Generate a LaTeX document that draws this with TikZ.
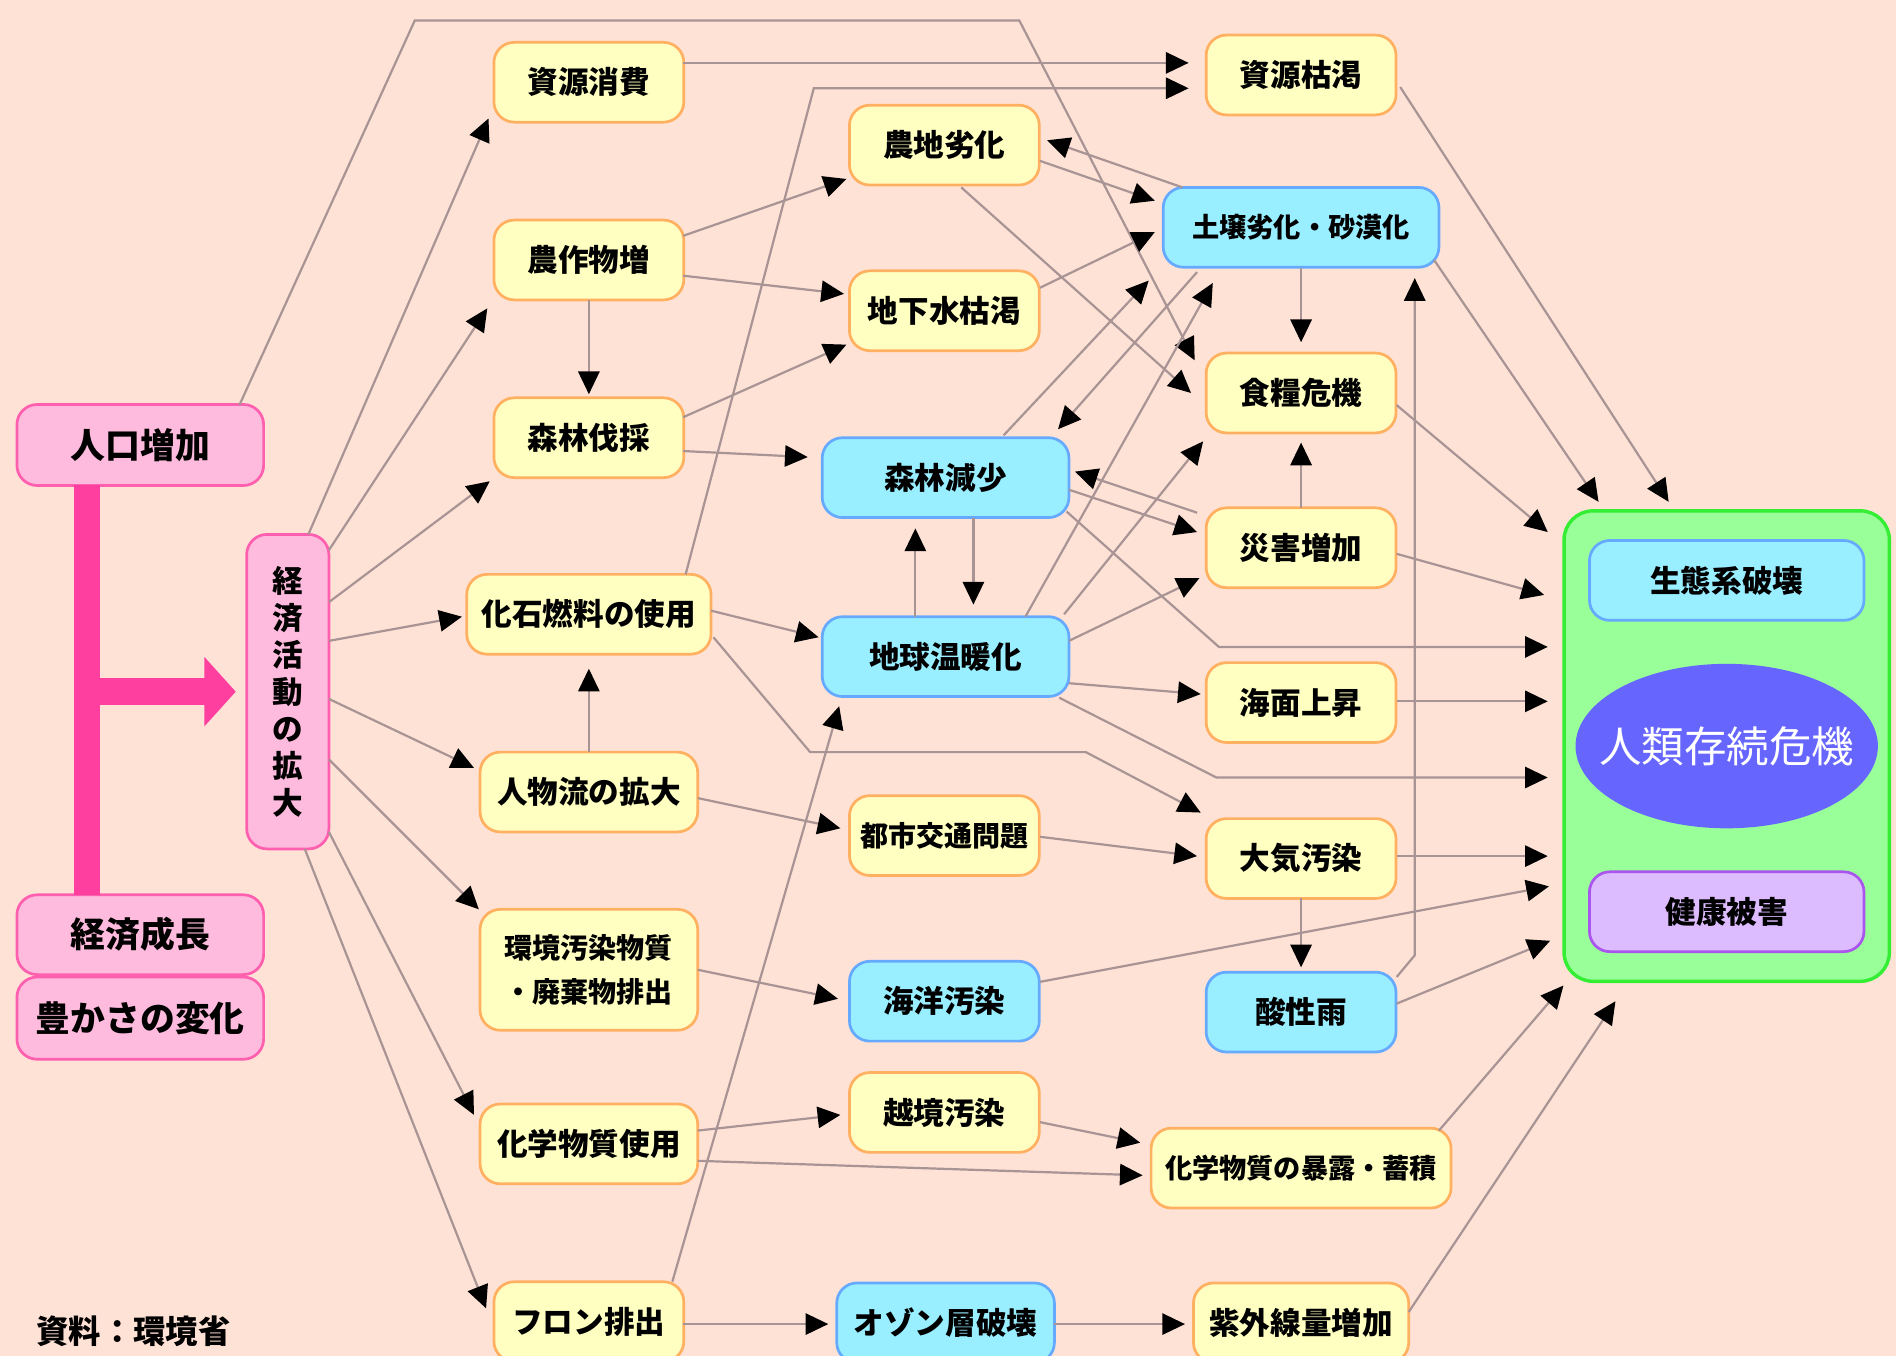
\documentclass[tikz,border=0pt]{standalone}
\usepackage{fontspec}
\setmainfont{Noto Sans CJK JP}
\usetikzlibrary{arrows.meta,calc,shapes.geometric}
\definecolor{bg}{HTML}{FFE2D6}
\definecolor{yfill}{HTML}{FFFFC2}
\definecolor{ydraw}{HTML}{FFB060}
\definecolor{bfill}{HTML}{99EEFF}
\definecolor{bdraw}{HTML}{66AAFF}
\definecolor{pfill}{HTML}{FFBBDD}
\definecolor{pdraw}{HTML}{FF5FAF}
\definecolor{pinkbar}{HTML}{FF3F9F}
\definecolor{gfill}{HTML}{99FF99}
\definecolor{gdraw}{HTML}{33EE33}
\definecolor{vfill}{HTML}{DDBBFF}
\definecolor{vdraw}{HTML}{AA55EE}
\definecolor{efill}{HTML}{6666FF}
\definecolor{lcol}{HTML}{A89494}
\begin{document}
\begin{tikzpicture}[x=0.025cm,y=-0.025cm,
  box/.style={rounded corners=0.42cm, line width=1.6pt, align=center, inner sep=0pt,
    minimum width=3.925cm, minimum height=1.65cm,
    font=\bfseries\fontsize{18}{21}\selectfont},
  ybox/.style={box, fill=yfill, draw=ydraw},
  bbox/.style={box, fill=bfill, draw=bdraw},
  pbox/.style={box, fill=pfill, draw=pdraw, minimum width=5.1cm, minimum height=1.675cm,
    font=\bfseries\fontsize{20.5}{24}\selectfont},
  vbox/.style={box, fill=vfill, draw=vdraw},
  conn/.style={draw=lcol, line width=1.3pt, -{Triangle[length=0.47cm,width=0.44cm,color=black]}},
  pinkline/.style={draw=pinkbar, line width=0.55cm},
]
\clip (0,0) rectangle (1568,1121);
\fill[bg] (0,0) rectangle (1568,1121);

% left column
\node[pbox] (pop) at (116,368) {人口増加};
\node[pbox, minimum height=1.65cm] (growth) at (116,773) {経済成長};
\node[pbox, minimum height=1.7cm] (rich) at (116,842) {豊かさの変化};
\node[pbox, minimum width=1.7cm, minimum height=6.5cm,
  font=\bfseries\fontsize{18}{21.8}\selectfont] (econ) at (238,572) {経\\済\\活\\動\\の\\拡\\大};

% column 2
\node[ybox] (res) at (487,68) {資源消費};
\node[ybox] (crop) at (487,215) {農作物増};
\node[ybox] (forest) at (487,362) {森林伐採};
\node[ybox, minimum width=5.05cm] (fossil) at (487,508) {化石燃料の使用};
\node[ybox, minimum width=4.5cm] (flow) at (487,655) {人物流の拡大};
\node[ybox, minimum width=4.5cm, minimum height=2.5cm,
  font=\bfseries\fontsize{16.5}{26}\selectfont] (pollut) at (487,802) {環境汚染物質\\・廃棄物排出};
\node[ybox, minimum width=4.5cm] (chem) at (487,946) {化学物質使用};
\node[ybox] (cfc) at (487,1093) {フロン排出};

% column 3
\node[ybox] (farm) at (781,120) {農地劣化};
\node[ybox] (ground) at (781,257) {地下水枯渇};
\node[bbox, minimum width=5.1cm] (deforest) at (782,395) {森林減少};
\node[bbox, minimum width=5.1cm] (warm) at (782,543) {地球温暖化};
\node[ybox, font=\bfseries\fontsize{16.5}{20}\selectfont] (traffic) at (781,691) {都市交通問題};
\node[bbox] (ocean) at (781,828) {海洋汚染};
\node[ybox] (cross) at (781,920) {越境汚染};
\node[bbox, minimum width=4.5cm] (ozone) at (782,1094) {オゾン層破壊};

% column 4
\node[ybox] (deplete) at (1076,62) {資源枯渇};
\node[bbox, minimum width=5.7cm, font=\bfseries\fontsize{16}{20}\selectfont] (soil) at (1076,188) {土壌劣化・砂漠化};
\node[ybox] (food) at (1076,325) {食糧危機};
\node[ybox] (disaster) at (1076,453) {災害増加};
\node[ybox] (sea) at (1076,581) {海面上昇};
\node[ybox] (air) at (1076,710) {大気汚染};
\node[bbox] (acid) at (1076,837) {酸性雨};
\node[ybox, minimum width=6.2cm, font=\bfseries\fontsize{16}{20}\selectfont] (expo) at (1076,966) {化学物質の暴露・蓄積};
\node[ybox, minimum width=4.45cm] (uv) at (1076,1094) {紫外線量増加};

% right group
\node[draw=gdraw, fill=gfill, line width=2pt, rounded corners=0.6cm,
  minimum width=6.725cm, minimum height=9.725cm] (green) at (1428,617) {};
\node[bbox, minimum width=5.675cm] (eco) at (1428,480) {生態系破壊};
\node[ellipse, fill=efill, inner sep=0pt, minimum width=6.25cm, minimum height=3.4cm] (crisis) at (1428,617) {};
\node[text=white, font=\fontsize{25}{28}\selectfont, inner sep=0pt] (crisistext) at (crisis) {人類存続危機};
\node[vbox, minimum width=5.675cm] (health) at (1428,754) {健康被害};

% source
\node[font=\bfseries\fontsize{19}{22}\selectfont, anchor=north west, inner sep=0pt] (src) at (30,1088) {資料：環境省};

% pink connectors
\draw[pinkline] ($(pop)+(-44,33)$) -- ($(growth)+(-44,-33)$);
\draw[pinkline, -{Triangle[length=0.65cm,width=1.4cm]}] ($(econ)+(-177,0)$) -- ($(econ)+(-43,0)$);

% bend points
\coordinate (pb1) at (343,17);
\coordinate (pb2) at (843,17);
\coordinate (fb1) at (673,73);
\coordinate (db1) at (1008,535);
\coordinate (ab1) at (670,622);
\coordinate (ab2) at (898,622);
\coordinate (wb1) at (1006,643);
\coordinate (rb1) at (1170,790);

% from econ
\draw[conn] ($(econ)+(17,-130)$) -- ($(res)+(-83,30)$);
\draw[conn] ($(econ)+(34,-117)$) -- ($(crop)+(-84,40)$);
\draw[conn] ($(econ)+(34,-74)$) -- ($(forest)+(-82,36)$);
\draw[conn] ($(econ)+(34,-42)$) -- ($(fossil)+(-105,2)$);
\draw[conn] ($(econ)+(34,6)$) -- ($(flow)+(-95,-20)$);
\draw[conn] ($(econ)+(34,56)$) -- ($(pollut)+(-91,-50)$);
\draw[conn] ($(econ)+(34,116)$) -- ($(chem)+(-95,-24)$);
\draw[conn] ($(econ)+(14,130)$) -- ($(cfc)+(-85,-11)$);

% population line
\draw[conn] ($(pop)+(82,-33)$) -- (pb1) -- (pb2) -- ($(food)+(-88,-27)$);

% resources
\draw[conn] ($(res)+(78,-16)$) -- ($(deplete)+(-93,-10)$);
\draw[conn] ($(fossil)+(80,-33)$) -- (fb1) -- ($(deplete)+(-93,11)$);

% crops / forest
\draw[conn] ($(crop)+(78,-20)$) -- ($(farm)+(-81,28)$);
\draw[conn] ($(crop)+(78,13)$) -- ($(ground)+(-83,-14)$);
\draw[conn] ($(crop)+(0,33)$) -- ($(forest)+(0,-36)$);
\draw[conn] ($(forest)+(78,-17)$) -- ($(ground)+(-81,28)$);
\draw[conn] ($(forest)+(78,11)$) -- ($(deforest)+(-114,-17)$);

% farm / soil / food
\draw[conn] ($(farm)+(79,13)$) -- ($(soil)+(-121,-22)$);
\draw[conn] ($(soil)+(-98,-33)$) -- ($(farm)+(85,-4)$);
\draw[conn] ($(ground)+(79,-19)$) -- ($(soil)+(-121,4)$);
\draw[conn] ($(farm)+(14,35)$) -- ($(food)+(-91,0)$);
\draw[conn] ($(soil)+(0,34)$) -- ($(food)+(0,-42)$);
\draw[conn] ($(deforest)+(48,-35)$) -- ($(soil)+(-126,44)$);
\draw[conn] ($(soil)+(-86,37)$) -- ($(deforest)+(93,-40)$);
\draw[conn] ($(warm)+(66,-33)$) -- ($(soil)+(-73,46)$);
\draw[conn] ($(warm)+(98,-35)$) -- ($(food)+(-81,40)$);

% deforest / warming
\draw[conn] ($(deforest)+(23,33)$) -- ($(warm)+(23,-43)$);
\draw[conn] ($(warm)+(-25,-33)$) -- ($(deforest)+(-25,42)$);
\draw[conn] ($(deforest)+(102,10)$) -- ($(disaster)+(-86,-13)$);
\draw[conn] ($(disaster)+(-86,-29)$) -- ($(deforest)+(107,-5)$);
\draw[conn] ($(warm)+(102,-13)$) -- ($(disaster)+(-84,25)$);
\draw[conn] ($(disaster)+(0,-33)$) -- ($(food)+(0,41)$);
\draw[conn] ($(deforest)+(100,28)$) -- (db1) -- ($(green)+(-148,-82)$);
\draw[conn] ($(fossil)+(101,-3)$) -- ($(warm)+(-105,-16)$);
\draw[conn] ($(fossil)+(103,19)$) -- (ab1) -- (ab2) -- ($(air)+(-83,-38)$);
\draw[conn] ($(warm)+(102,22)$) -- ($(sea)+(-83,-7)$);
\draw[conn] ($(warm)+(94,34)$) -- (wb1) -- ($(green)+(-148,26)$);

% traffic / air / acid
\draw[conn] ($(flow)+(0,-33)$) -- ($(fossil)+(0,45)$);
\draw[conn] ($(flow)+(90,5)$) -- ($(traffic)+(-86,-6)$);
\draw[conn] ($(traffic)+(79,1)$) -- ($(air)+(-86,-2)$);
\draw[conn] ($(air)+(0,33)$) -- ($(acid)+(0,-37)$);
\draw[conn] ($(acid)+(79,-29)$) -- (rb1) -- ($(soil)+(94,42)$);

% pollution / chemicals
\draw[conn] ($(pollut)+(90,0)$) -- ($(ocean)+(-88,-2)$);
\draw[conn] ($(chem)+(90,-11)$) -- ($(cross)+(-86,2)$);
\draw[conn] ($(chem)+(90,14)$) -- ($(expo)+(-131,6)$);
\draw[conn] ($(cross)+(79,8)$) -- ($(expo)+(-133,-21)$);

% CFC
\draw[conn] ($(cfc)+(78,2)$) -- ($(ozone)+(-97,1)$);
\draw[conn] ($(ozone)+(90,1)$) -- ($(uv)+(-96,1)$);
\draw[conn] ($(cfc)+(69,-33)$) -- ($(warm)+(-88,41)$);

% into the green group
\draw[conn] ($(deplete)+(82,10)$) -- ($(green)+(-48,-202)$);
\draw[conn] ($(soil)+(110,27)$) -- ($(green)+(-106,-202)$);
\draw[conn] ($(food)+(79,10)$) -- ($(green)+(-148,-177)$);
\draw[conn] ($(disaster)+(79,5)$) -- ($(green)+(-151,-125)$);
\draw[conn] ($(sea)+(79,-1)$) -- ($(green)+(-148,-37)$);
\draw[conn] ($(air)+(79,-2)$) -- ($(green)+(-148,91)$);
\draw[conn] ($(ocean)+(79,-16)$) -- ($(green)+(-147,116)$);
\draw[conn] ($(acid)+(79,-7)$) -- ($(green)+(-146,161)$);
\draw[conn] ($(expo)+(114,-31)$) -- ($(green)+(-135,198)$);
\draw[conn] ($(uv)+(89,-9)$) -- ($(green)+(-92,211)$);
\end{tikzpicture}
\end{document}
